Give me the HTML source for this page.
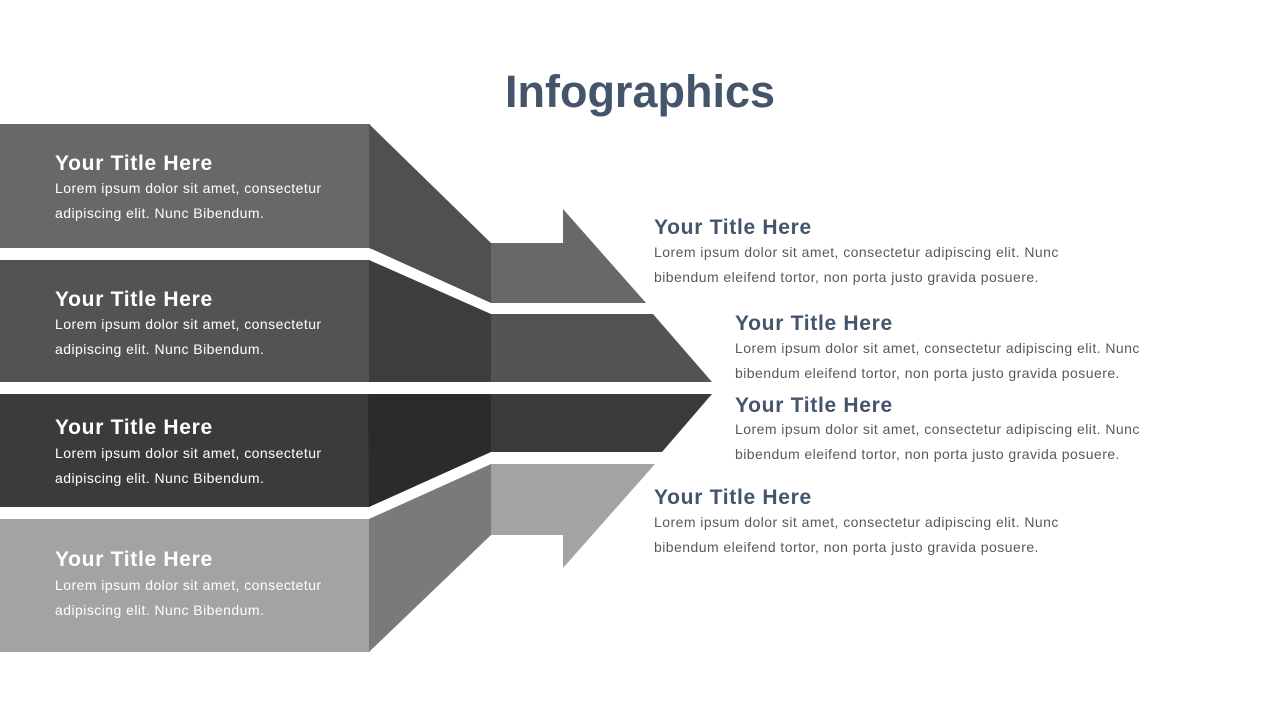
<!DOCTYPE html>
<html><head><meta charset="utf-8"><style>
body{margin:0;width:1280px;height:720px;background:#fff;position:relative;overflow:hidden;font-family:"Liberation Sans","DejaVu Sans",sans-serif}
.t{position:absolute;font-weight:bold;font-size:21px;line-height:21px;white-space:nowrap;letter-spacing:0.7px}
.b{position:absolute;font-size:14px;line-height:25px;white-space:nowrap;letter-spacing:0.45px}
.w{color:#fff}
.d{color:#44546a}
.g{color:#595959}
</style></head><body>
<svg width="1280" height="720" style="position:absolute;left:0;top:0">
<rect x="0" y="124" width="370" height="124" fill="#686868"/>
<polygon points="369,124 491,243 491,303 374,250 369,248" fill="#505050"/>
<polygon points="491,243 563,243 563,209 646,303 491,303" fill="#686868"/>
<rect x="0" y="260" width="370" height="122" fill="#535353"/>
<polygon points="369,260 491,314 491,382 369,382" fill="#3d3d3d"/>
<polygon points="491,314 653,314 712,382 491,382" fill="#535353"/>
<rect x="0" y="394" width="370" height="113" fill="#3b3b3b"/>
<polygon points="368,394 491,394 491,452 369,507" fill="#2b2b2b"/>
<polygon points="491,394 712,394 662,452 491,452" fill="#3b3b3b"/>
<rect x="0" y="519" width="370" height="133" fill="#a3a3a3"/>
<polygon points="369,519 491,464 491,535 369,652" fill="#7a7a7a"/>
<polygon points="491,464 655,464 563,568 563,535 491,535" fill="#a3a3a3"/>
</svg>
<div style="position:absolute;left:0;width:1280px;top:67px;text-align:center;font-weight:bold;font-size:45px;line-height:50px;color:#44546a">Infographics</div>

<div class="t w" style="left:55px;top:153px">Your Title Here</div>
<div class="b w" style="left:55px;top:176px">Lorem ipsum dolor sit amet, consectetur<br>adipiscing elit. Nunc Bibendum.</div>
<div class="t w" style="left:55px;top:289px">Your Title Here</div>
<div class="b w" style="left:55px;top:312px">Lorem ipsum dolor sit amet, consectetur<br>adipiscing elit. Nunc Bibendum.</div>
<div class="t w" style="left:55px;top:417px">Your Title Here</div>
<div class="b w" style="left:55px;top:441px">Lorem ipsum dolor sit amet, consectetur<br>adipiscing elit. Nunc Bibendum.</div>
<div class="t w" style="left:55px;top:549px">Your Title Here</div>
<div class="b w" style="left:55px;top:573px">Lorem ipsum dolor sit amet, consectetur<br>adipiscing elit. Nunc Bibendum.</div>

<div class="t d" style="left:654px;top:217px">Your Title Here</div>
<div class="b g" style="left:654px;top:240px">Lorem ipsum dolor sit amet, consectetur adipiscing elit. Nunc<br>bibendum eleifend tortor, non porta justo gravida posuere.</div>
<div class="t d" style="left:735px;top:313px">Your Title Here</div>
<div class="b g" style="left:735px;top:336px">Lorem ipsum dolor sit amet, consectetur adipiscing elit. Nunc<br>bibendum eleifend tortor, non porta justo gravida posuere.</div>
<div class="t d" style="left:735px;top:395px">Your Title Here</div>
<div class="b g" style="left:735px;top:417px">Lorem ipsum dolor sit amet, consectetur adipiscing elit. Nunc<br>bibendum eleifend tortor, non porta justo gravida posuere.</div>
<div class="t d" style="left:654px;top:487px">Your Title Here</div>
<div class="b g" style="left:654px;top:510px">Lorem ipsum dolor sit amet, consectetur adipiscing elit. Nunc<br>bibendum eleifend tortor, non porta justo gravida posuere.</div>
</body></html>
